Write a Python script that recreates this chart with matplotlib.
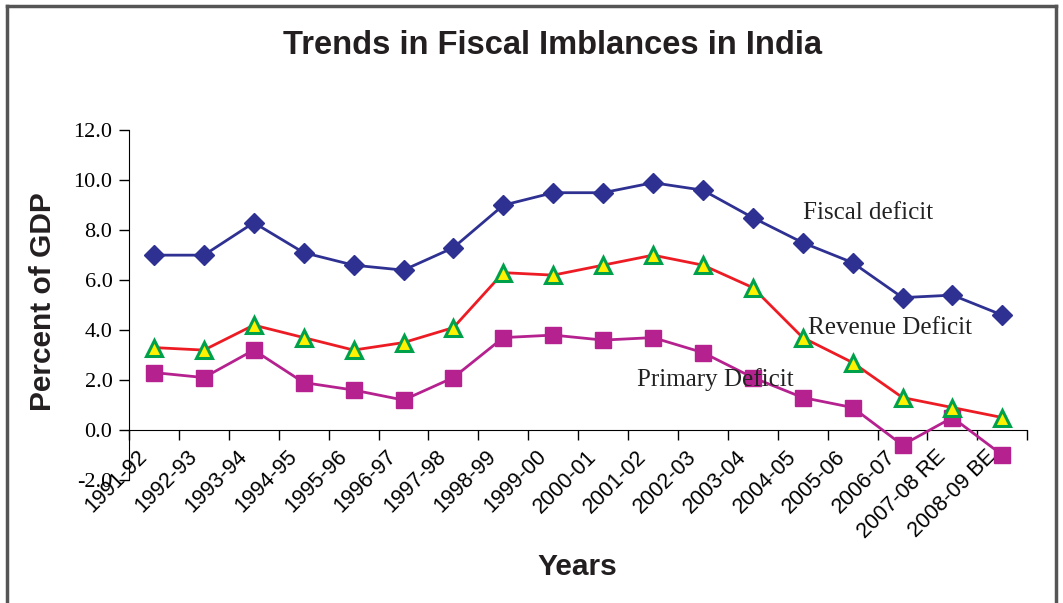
import numpy as np
import matplotlib.pyplot as plt
import matplotlib.transforms as mtransforms
from matplotlib.lines import Line2D

years = ["1991-92", "1992-93", "1993-94", "1994-95", "1995-96", "1996-97",
         "1997-98", "1998-99", "1999-00", "2000-01", "2001-02", "2002-03",
         "2003-04", "2004-05", "2005-06", "2006-07", "2007-08 RE", "2008-09 BE"]

fiscal_deficit = [7.0, 7.0, 8.3, 7.1, 6.6, 6.4, 7.3, 9.0, 9.5, 9.5,
                  9.9, 9.6, 8.5, 7.5, 6.7, 5.3, 5.4, 4.6]
revenue_deficit = [3.3, 3.2, 4.2, 3.7, 3.2, 3.5, 4.1, 6.3, 6.2, 6.6,
                   7.0, 6.6, 5.7, 3.7, 2.7, 1.3, 0.9, 0.5]
primary_deficit = [2.3, 2.1, 3.2, 1.9, 1.6, 1.2, 2.1, 3.7, 3.8, 3.6,
                   3.7, 3.1, 2.1, 1.3, 0.9, -0.6, 0.5, -1.0]

y_ticks = [-2.0, 0.0, 2.0, 4.0, 6.0, 8.0, 10.0, 12.0]

serif = "Liberation Serif"
sans = "Liberation Sans"

fig = plt.figure(figsize=(10.63, 6.03), dpi=100)
ax = fig.add_axes([0.1214, 0.204, 0.845, 0.580])

x = np.arange(len(years))

ax.plot(x, fiscal_deficit, color="#2E3192", lw=2, marker="D", ms=10,
        mfc="#2E3192", mec="#2E3192", zorder=3)
ax.plot(x, revenue_deficit, color="#ED1C24", lw=2, marker="^", ms=12,
        mfc="#FFF200", mec="#00A14B", mew=2.2, zorder=4)
ax.plot(x, primary_deficit, color="#B5218E", lw=2, marker="s", ms=11,
        mfc="#B5218E", mec="#B5218E", zorder=3)

ax.set_xlim(-0.5, len(years) - 0.5)
ax.set_ylim(-2, 12)

ax.spines["top"].set_visible(False)
ax.spines["right"].set_visible(False)
ax.spines["bottom"].set_position(("data", 0))
ax.spines["left"].set_position(("data", -0.5))

ax.set_yticks(y_ticks)
ax.set_yticklabels(["%.1f" % v for v in y_ticks], fontfamily=serif, fontsize=16)
ax.tick_params(axis="y", direction="out", length=7, width=1, pad=5)

ax.set_xticks(x)
ax.set_xticks(np.arange(len(years) + 1) - 0.5, minor=True)
ax.tick_params(axis="x", which="major", length=0, pad=12)
ax.tick_params(axis="x", which="minor", direction="out", length=7, width=1)
ax.set_xticklabels(years, rotation=45, ha="right", va="center",
                   rotation_mode="anchor", fontfamily=sans, fontsize=15.5)
# labels sit a little left of and below the category centre, like the original
shift = mtransforms.ScaledTranslation(-0.10, -0.07, fig.dpi_scale_trans)
for lab in ax.get_xticklabels():
    lab.set_transform(lab.get_transform() + shift)

ax.text(13.0, 8.45, "Fiscal deficit", fontfamily=serif, fontsize=18, color="#222222")
ax.text(13.1, 3.85, "Revenue Deficit", fontfamily=serif, fontsize=18, color="#222222")
ax.text(9.68, 1.75, "Primary Deficit", fontfamily=serif, fontsize=18, color="#222222")

fig.text(0.52, 0.924, "Trends in Fiscal Imblances in India", ha="center", va="center",
         fontfamily=sans, fontweight="bold", fontsize=23.5, color="#231F20")
fig.text(0.04, 0.50, "Percent of GDP", rotation=90, ha="center", va="center",
         fontfamily=sans, fontweight="bold", fontsize=21.5, color="#231F20")
fig.text(0.543, 0.06, "Years", ha="center", va="center",
         fontfamily=sans, fontweight="bold", fontsize=21.5, color="#231F20")

# outer chart border (top, left, right)
border = dict(color="#555555", lw=2.5, transform=fig.transFigure)
fig.add_artist(Line2D([0.0066, 0.9935], [0.990, 0.990], **border))
fig.add_artist(Line2D([0.0066, 0.0066], [0.0, 0.990], **border))
fig.add_artist(Line2D([0.9935, 0.9935], [0.0, 0.990], **border))

fig.savefig("out.png", dpi=100)
